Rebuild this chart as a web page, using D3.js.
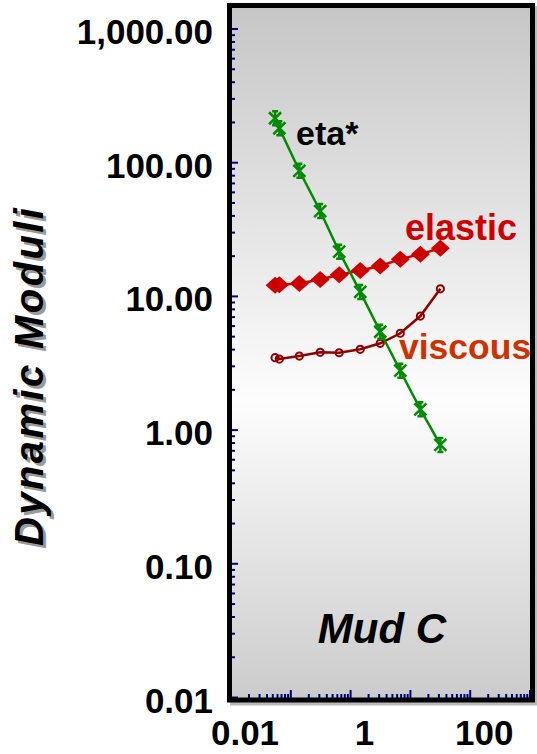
<!DOCTYPE html>
<html><head><meta charset="utf-8">
<script src="https://cdn.jsdelivr.net/npm/d3@7"></script>
<style>html,body{margin:0;padding:0;background:#fff;} svg{display:block;}</style>
</head><body>
<script>
// ---- data ----
const freqEta = [0.0546, 0.0644, 0.139, 0.310, 0.644, 1.45, 3.13, 6.78, 14.7, 31.7];
const etaStar = [215, 181, 87, 43.5, 21.6, 10.8, 5.44, 2.78, 1.43, 0.774];
const freqMod = [0.0546, 0.0644, 0.139, 0.310, 0.644, 1.45, 3.13, 6.78, 14.7, 31.7];
const elastic = [12.1, 12.2, 12.5, 13.4, 14.5, 15.6, 16.9, 19.0, 20.7, 22.9];
const viscous = [3.48, 3.40, 3.58, 3.82, 3.79, 4.02, 4.46, 5.30, 7.13, 11.4];
const yTickValues = [0.01, 0.1, 1, 10, 100, 1000];
const xTickValues = [0.01, 1, 100];
const xTickLabels = ["0.01", "1", "100"];
const yTitle = "Dynamic Moduli";
const panelTitle = "Mud C";
const seriesLabels = ["eta*", "elastic", "viscous"];

const W = 537, H = 754;
const svg = d3.select("body").append("svg").attr("width", W).attr("height", H);
const font = "'Liberation Sans', Arial, Helvetica, sans-serif";

const box = {x0: 229.5, x1: 532.5, y0: 5.5, y1: 700};
const x = d3.scaleLog().domain([0.01, 1000]).range([231, 530]);
const y = d3.scaleLog().domain([0.01, 1000]).range([697.5, 29]);

// gradient background
const defs = svg.append("defs");
const g = defs.append("linearGradient").attr("id", "bg").attr("x1", 0).attr("y1", 0).attr("x2", 0).attr("y2", 1);
g.append("stop").attr("offset", "0%").attr("stop-color", "#c6c6c6");
g.append("stop").attr("offset", "57%").attr("stop-color", "#fdfdfd");
g.append("stop").attr("offset", "100%").attr("stop-color", "#cbcbcb");

// frame shadow
svg.append("rect").attr("x", box.x0 + 3).attr("y", box.y0 + 3)
  .attr("width", box.x1 - box.x0).attr("height", box.y1 - box.y0)
  .attr("fill", "none").attr("stroke", "#bbb").attr("stroke-width", 5);
svg.append("rect").attr("x", box.x0).attr("y", box.y0)
  .attr("width", box.x1 - box.x0).attr("height", box.y1 - box.y0)
  .attr("fill", "url(#bg)");

// minor/major ticks
const navy = "#000080";
const yt = svg.append("g");
for (let e = -2; e <= 3; e++) {
  for (let m = 1; m <= 9; m++) {
    const v = m * Math.pow(10, e);
    const py = y(v);
    if (py < 9) continue;
    yt.append("line").attr("x1", 231).attr("x2", m === 1 ? 238 : 235)
      .attr("y1", py).attr("y2", py).attr("stroke", navy).attr("stroke-width", 2);
  }
}
const xt = svg.append("g");
for (let e = -2; e <= 3; e++) {
  for (let m = 1; m <= 9; m++) {
    const v = m * Math.pow(10, e);
    if (v > 1000) continue;
    const px = x(v);
    xt.append("line").attr("x1", px).attr("x2", px)
      .attr("y1", 698).attr("y2", m === 1 ? 690 : 694).attr("stroke", navy).attr("stroke-width", 2);
  }
}

// frame
svg.append("rect").attr("x", box.x0).attr("y", box.y0)
  .attr("width", box.x1 - box.x0).attr("height", box.y1 - box.y0)
  .attr("fill", "none").attr("stroke", "#000").attr("stroke-width", 5);

// y tick labels
const fmt = d3.format(",.2f");
svg.append("g").selectAll("text").data(yTickValues).join("text")
  .attr("x", 213).attr("y", d => y(d) + 15)
  .attr("text-anchor", "end").attr("font-family", font).attr("font-weight", "bold")
  .attr("font-size", 35).attr("fill", "#000").text(d => fmt(d));

// x tick labels
svg.append("g").selectAll("text").data(xTickValues).join("text")
  .attr("x", d => x(d) + 14).attr("y", 745)
  .attr("text-anchor", "middle").attr("font-family", font).attr("font-weight", "bold")
  .attr("font-size", 35).attr("fill", "#000").text((d, i) => xTickLabels[i]);

// y title with shadow
function yTitleText(dx, dy, col) {
  svg.append("text").attr("transform", `translate(${43 + dx},${377 + dy}) rotate(-90)`)
    .attr("text-anchor", "middle").attr("font-family", font).attr("font-weight", "bold")
    .attr("font-style", "italic").attr("font-size", 40).attr("fill", col)
    .attr("textLength", 338).attr("lengthAdjust", "spacing").text(yTitle);
}
yTitleText(3, 3, "#9a9a9a");
yTitleText(0, 0, "#000");

// panel title
svg.append("text").attr("x", 382).attr("y", 643).attr("text-anchor", "middle")
  .attr("font-family", font).attr("font-weight", "bold").attr("font-style", "italic")
  .attr("font-size", 42).attr("fill", "#000").text(panelTitle);

const line = d3.line().x(d => x(d[0])).y(d => y(d[1]));

// elastic
const elData = freqMod.map((f, i) => [f, elastic[i]]);
svg.append("path").attr("d", line(elData)).attr("fill", "none").attr("stroke", "#cc0000").attr("stroke-width", 2.5);
svg.append("g").selectAll("path").data(elData).join("path")
  .attr("transform", d => `translate(${x(d[0])},${y(d[1])})`)
  .attr("d", "M0,-8.5L9.5,0L0,8.5L-9.5,0Z").attr("fill", "#cc0000");

// viscous
const viData = freqMod.map((f, i) => [f, viscous[i]]);
svg.append("path").attr("d", line(viData)).attr("fill", "none").attr("stroke", "#8e0000").attr("stroke-width", 2.5);
svg.append("g").selectAll("circle").data(viData).join("circle")
  .attr("cx", d => x(d[0])).attr("cy", d => y(d[1])).attr("r", 3.6)
  .attr("fill", "none").attr("stroke", "#8e0000").attr("stroke-width", 2);

// eta*
const etData = freqEta.map((f, i) => [f, etaStar[i]]);
const green = "#008a00";
svg.append("path").attr("d", line(etData)).attr("fill", "none").attr("stroke", green).attr("stroke-width", 2.5);
svg.append("g").selectAll("path").data(etData).join("path")
  .attr("transform", d => `translate(${x(d[0])},${y(d[1])})`)
  .attr("d", "M0,-7V7M-6,-6L6,6M-6,6L6,-6M-3,-7H3M-3,7H3")
  .attr("fill", "none").attr("stroke", green).attr("stroke-width", 2.5);

// series labels
svg.append("text").attr("x", 296).attr("y", 145).attr("font-family", font).attr("font-weight", "bold")
  .attr("font-size", 34).attr("fill", "#000").text(seriesLabels[0]);
svg.append("text").attr("x", 405).attr("y", 240).attr("font-family", font).attr("font-weight", "bold")
  .attr("font-size", 36).attr("fill", "#cc0000").text(seriesLabels[1]);
svg.append("text").attr("x", 399).attr("y", 359).attr("font-family", font).attr("font-weight", "bold")
  .attr("font-size", 35.5).attr("fill", "#cc3300").text(seriesLabels[2]);
</script>
</body></html>
